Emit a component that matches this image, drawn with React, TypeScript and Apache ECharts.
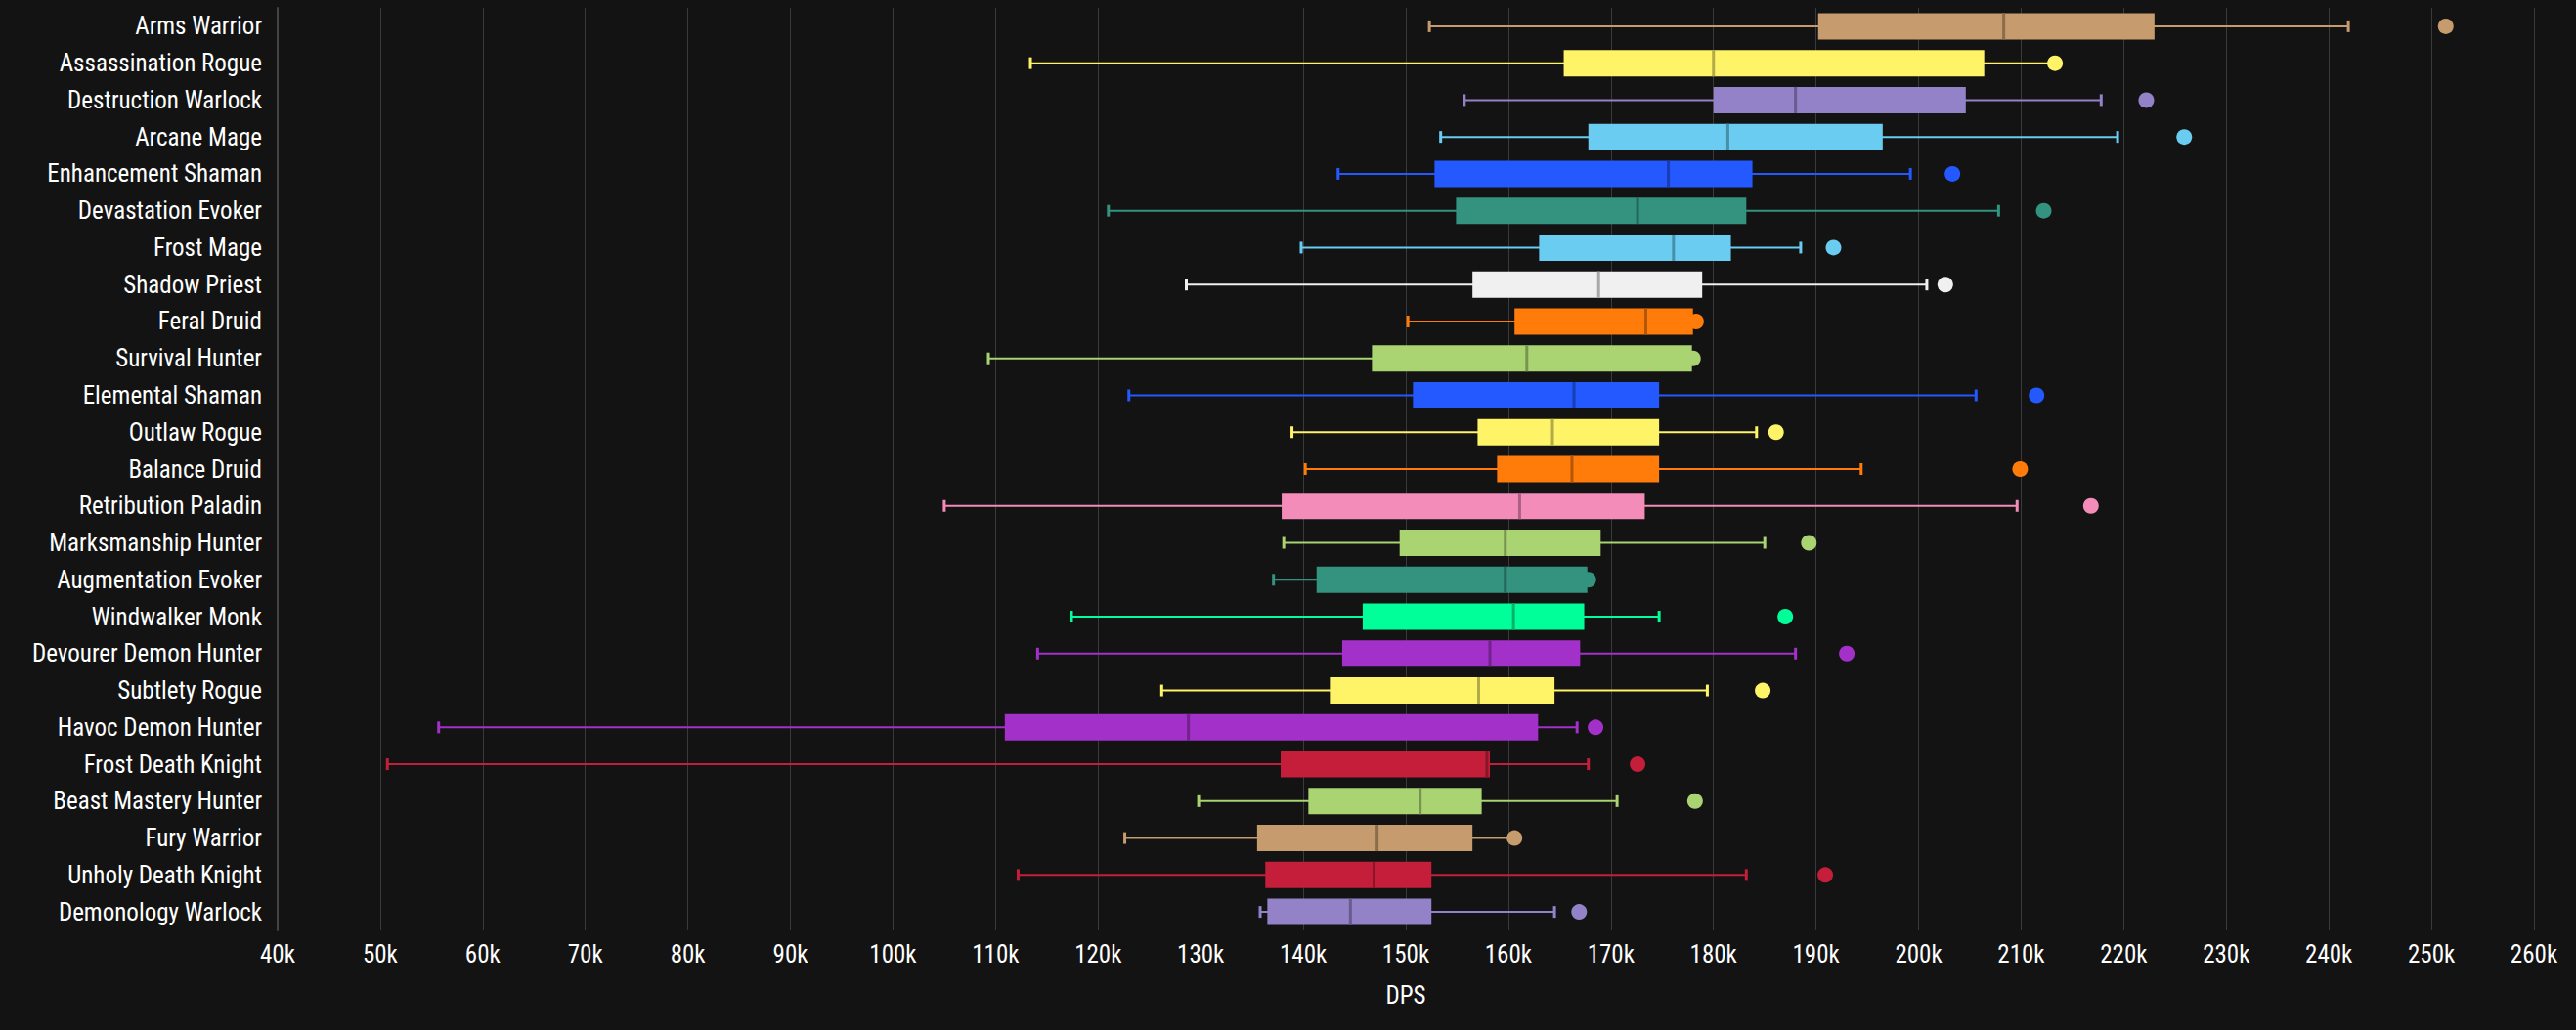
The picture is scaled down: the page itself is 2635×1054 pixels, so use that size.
import React, { useEffect, useRef } from 'react';
import * as echarts from 'echarts';

const specs = [
  'Arms Warrior', 'Assassination Rogue', 'Destruction Warlock', 'Arcane Mage', 'Enhancement Shaman',
  'Devastation Evoker', 'Frost Mage', 'Shadow Priest', 'Feral Druid', 'Survival Hunter',
  'Elemental Shaman', 'Outlaw Rogue', 'Balance Druid', 'Retribution Paladin', 'Marksmanship Hunter',
  'Augmentation Evoker', 'Windwalker Monk', 'Devourer Demon Hunter', 'Subtlety Rogue', 'Havoc Demon Hunter',
  'Frost Death Knight', 'Beast Mastery Hunter', 'Fury Warrior', 'Unholy Death Knight', 'Demonology Warlock',
];

// in thousands of DPS
const lows = [152.3, 113.4, 155.7, 153.4, 143.4, 121.0, 139.8, 128.6, 150.2, 109.3, 123.0, 138.9, 140.2, 105.0, 138.1, 137.1, 117.4, 114.1, 126.2, 55.7, 50.7, 129.8, 122.6, 112.2, 135.8];
const q1s = [190.2, 165.4, 180.0, 167.8, 152.8, 154.9, 163.0, 156.5, 160.6, 146.7, 150.7, 157.0, 158.9, 137.9, 149.4, 141.3, 145.8, 143.8, 142.6, 110.9, 137.8, 140.5, 135.5, 136.3, 136.5];
const medians = [208.3, 180.0, 188.0, 181.4, 175.6, 172.6, 176.1, 168.8, 173.4, 161.8, 166.4, 164.3, 166.2, 161.1, 159.7, 159.7, 160.5, 158.2, 157.1, 128.8, 157.9, 151.4, 147.2, 146.9, 144.6];
const q3s = [223.0, 206.4, 204.6, 196.5, 183.8, 183.2, 181.7, 178.9, 178.0, 177.9, 174.7, 174.7, 174.7, 173.3, 169.0, 167.7, 167.4, 167.0, 164.5, 162.9, 158.2, 157.4, 156.5, 152.5, 152.5];
const highs = [241.9, 213.1, 217.8, 219.4, 199.2, 207.8, 188.5, 200.8, 178.0, 177.9, 205.6, 184.2, 194.4, 209.6, 185.0, 167.7, 174.7, 188.0, 179.4, 166.7, 167.8, 170.6, 160.5, 183.2, 164.5];
const outliers = [251.4, 213.3, 222.2, 225.9, 203.3, 212.2, 191.7, 202.6, 178.3, 178.0, 211.5, 186.1, 209.9, 216.8, 189.3, 167.8, 187.0, 193.0, 184.8, 168.5, 172.6, 178.2, 160.6, 190.9, 166.9];

const classColors: [string, string][] = [
  ['Demon Hunter', '#A330C9'], ['Death Knight', '#C41E3A'],
  ['Warrior', '#C69B6D'], ['Rogue', '#FFF468'], ['Warlock', '#9482C9'], ['Mage', '#69CCF0'],
  ['Shaman', '#2459FF'], ['Evoker', '#33937F'], ['Priest', '#F0F0F0'], ['Druid', '#FF7C0A'],
  ['Hunter', '#AAD372'], ['Paladin', '#F48CBA'], ['Monk', '#00FF98'],
];
const colorOf = (s: string) => classColors.find(([k]) => s.endsWith(k))![1];

const darken = (hex: string, f: number) => {
  const n = parseInt(hex.slice(1), 16);
  const ch = [(n >> 16) & 255, (n >> 8) & 255, n & 255].map((v) => Math.round(v * f));
  return `rgb(${ch.join(',')})`;
};

const App: React.FC = () => {
  const ref = useRef<HTMLDivElement>(null);

  useEffect(() => {
    document.body.style.margin = '0';
    if (!ref.current) return;
    const chart = echarts.init(ref.current, undefined, { renderer: 'svg' });
    const font = '"Liberation Sans Narrow", "Roboto Condensed", sans-serif';

    const boxData = specs.map((s, i) => [i, lows[i], q1s[i], medians[i], q3s[i], highs[i]]);

    chart.setOption({
      animation: false,
      backgroundColor: '#131313',
      grid: { left: 284, right: 43, top: 8, bottom: 102 },
      xAxis: {
        type: 'value',
        min: 40,
        max: 260,
        interval: 10,
        name: 'DPS',
        nameLocation: 'middle',
        nameGap: 54,
        nameTextStyle: { color: '#fff', fontSize: 25, fontFamily: font },
        axisLabel: { color: '#fff', fontSize: 25, fontFamily: font, margin: 12, formatter: (v: number) => v + 'k' },
        axisLine: { show: false },
        axisTick: { show: false },
        splitLine: { lineStyle: { color: '#3a3a3a', width: 1 } },
      },
      yAxis: {
        type: 'category',
        data: specs,
        inverse: true,
        axisLabel: { color: '#fff', fontSize: 25, fontFamily: font, margin: 16 },
        axisLine: { lineStyle: { color: '#444', width: 2 } },
        axisTick: { lineStyle: { color: '#444', width: 2 }, length: 6 },
        splitLine: { show: false },
      },
      series: [
        {
          type: 'custom',
          data: boxData,
          encode: { x: [1, 2, 3, 4, 5], y: 0 },
          renderItem: (params: any, api: any) => {
            const i = api.value(0);
            const c = colorOf(specs[i]);
            const dark = darken(c, 0.7);
            const y = api.coord([0, i])[1];
            const xs = [1, 2, 3, 4, 5].map((k) => api.coord([api.value(k), i])[0]);
            const bh = 27;
            const cap = 12;
            return {
              type: 'group',
              children: [
                { type: 'line', shape: { x1: xs[0], y1: y, x2: xs[4], y2: y }, style: { stroke: c, lineWidth: 2 } },
                { type: 'line', shape: { x1: xs[0], y1: y - cap / 2, x2: xs[0], y2: y + cap / 2 }, style: { stroke: c, lineWidth: 3 } },
                { type: 'line', shape: { x1: xs[4], y1: y - cap / 2, x2: xs[4], y2: y + cap / 2 }, style: { stroke: c, lineWidth: 3 } },
                { type: 'rect', shape: { x: xs[1], y: y - bh / 2, width: xs[3] - xs[1], height: bh }, style: { fill: c } },
                { type: 'line', shape: { x1: xs[2], y1: y - bh / 2, x2: xs[2], y2: y + bh / 2 }, style: { stroke: dark, lineWidth: 3 } },
              ],
            };
          },
        },
        {
          type: 'scatter',
          symbolSize: 16,
          data: specs.map((s, i) => ({ value: [outliers[i], s], itemStyle: { color: colorOf(s), opacity: 1 } })),
          z: 3,
        },
      ],
    });
    return () => chart.dispose();
  }, []);

  return <div ref={ref} style={{ width: 2635, height: 1054 }} />;
};

export default App;
